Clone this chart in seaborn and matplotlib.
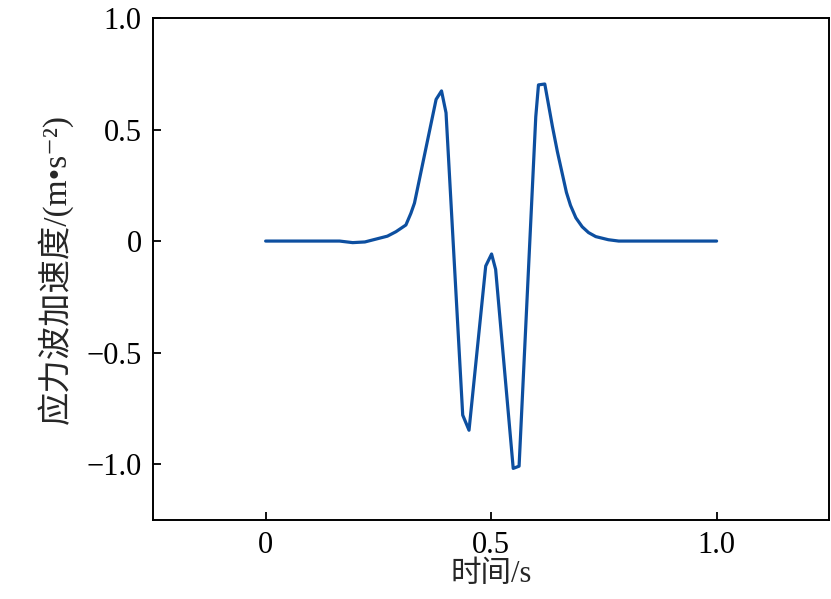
import numpy as np
import pandas as pd
import matplotlib
matplotlib.use("Agg")
import matplotlib.pyplot as plt
import seaborn as sns

# values
time_s = [0.0, 0.05, 0.10, 0.15, 0.164, 0.193, 0.22, 0.245, 0.27, 0.289, 0.311, 0.322,
          0.330, 0.378, 0.390, 0.400, 0.437, 0.451, 0.488, 0.501, 0.510, 0.549,
          0.562, 0.599, 0.605, 0.619, 0.636, 0.647, 0.658, 0.667, 0.676, 0.688,
          0.702, 0.716, 0.732, 0.760, 0.783, 0.85, 0.90, 0.95, 1.0]
accel = [0.0, 0.0, 0.0, 0.0, 0.0, -0.007, -0.004, 0.009, 0.022, 0.042, 0.072, 0.124,
         0.170, 0.635, 0.673, 0.575, -0.780, -0.848, -0.112, -0.058, -0.127, -1.019,
         -1.009, 0.557, 0.700, 0.704, 0.513, 0.400, 0.300, 0.218, 0.160, 0.104,
         0.064, 0.038, 0.020, 0.006, 0.0, 0.0, 0.0, 0.0, 0.0]

xticks = [0, 0.5, 1.0]
xtick_labels = ["0", "0.5", "1.0"]
yticks = [-1.0, -0.5, 0, 0.5, 1.0]
ytick_labels = ["\u22121.0", "\u22120.5", "0", "0.5", "1.0"]

df = pd.DataFrame({"t": time_s, "a": accel})

sns.set_style("ticks")
plt.rcParams['font.family'] = ['Liberation Serif', 'Noto Sans CJK SC', 'DejaVu Sans']

fig = plt.figure(figsize=(8.31, 5.99), dpi=100)
ax = fig.add_axes([0.184, 0.132, 0.814, 0.838])
sns.lineplot(data=df, x="t", y="a", ax=ax, color="#0d4fa0", lw=2.3, sort=False)

ax.set_xlim(-0.25, 1.25)
ax.set_ylim(-1.25, 1.0)
ax.set_xticks(xticks)
ax.set_xticklabels(xtick_labels)
ax.set_yticks(yticks)
ax.set_yticklabels(ytick_labels)
ax.tick_params(direction="in", length=6, width=1.3, labelsize=22, colors="black",
               top=False, right=False, pad=8)
for s in ax.spines.values():
    s.set_linewidth(1.4)
    s.set_color("black")

ax.set_xlabel("时间/s", fontsize=22, labelpad=0)
ax.set_ylabel("应力波加速度/(m\u2022s\u207b\u00b2)", fontsize=24, labelpad=10)

fig.savefig("out.png", dpi=100)
